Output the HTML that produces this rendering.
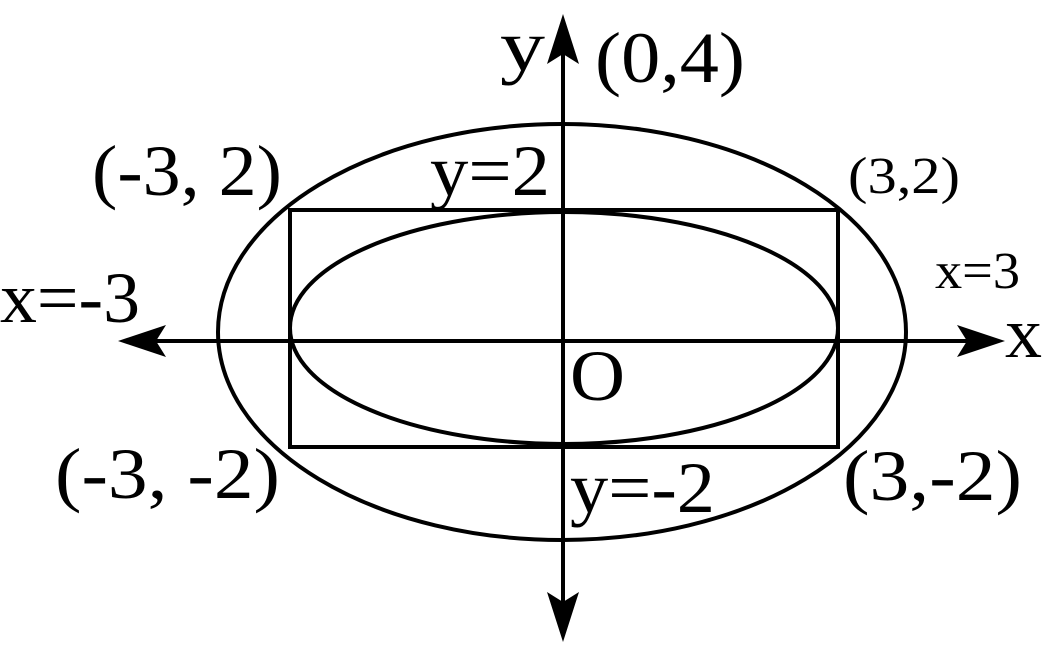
<!DOCTYPE html>
<html><head><meta charset="utf-8"><style>
html,body{margin:0;padding:0;background:#fff;}
svg{display:block;}
text{font-family:"Liberation Serif",serif;fill:#000;}
</style></head><body>
<svg width="1047" height="656" viewBox="0 0 1047 656" xmlns="http://www.w3.org/2000/svg">
<g stroke="#000" stroke-width="4" fill="none">
<ellipse cx="562" cy="332" rx="344" ry="208"/>
<rect x="290" y="210" width="548" height="237"/>
<ellipse cx="564" cy="328" rx="274" ry="116"/>
<line x1="140" y1="341" x2="985" y2="341"/>
<line x1="563" y1="35" x2="563" y2="620"/>
</g>
<g fill="#000">
<polygon points="118,341 166,325 156,341 166,357"/>
<polygon points="1005,341 957,325 967,341 957,357"/>
<polygon points="563,14 547,64 563,54 579,64"/>
<polygon points="563,642 547,592 563,602 579,592"/>
</g>
<g font-size="72">
<text x="500" y="70" textLength="45" lengthAdjust="spacingAndGlyphs">y</text>
<text x="595" y="82" textLength="150" lengthAdjust="spacingAndGlyphs">(0,4)</text>
<text x="92" y="195" textLength="190" lengthAdjust="spacingAndGlyphs">(-3, 2)</text>
<text x="430" y="195" textLength="120" lengthAdjust="spacingAndGlyphs">y=2</text>
<text x="0" y="322" textLength="140" lengthAdjust="spacingAndGlyphs">x=-3</text>
<text x="1005" y="357" textLength="37" lengthAdjust="spacingAndGlyphs">x</text>
<text x="570" y="400" textLength="55" lengthAdjust="spacingAndGlyphs">O</text>
<text x="55" y="498" textLength="225" lengthAdjust="spacingAndGlyphs">(-3, -2)</text>
<text x="570" y="512" textLength="145" lengthAdjust="spacingAndGlyphs">y=-2</text>
<text x="843" y="500" textLength="179" lengthAdjust="spacingAndGlyphs">(3,-2)</text>
</g>
<g font-size="52">
<text x="848" y="193" textLength="112" lengthAdjust="spacingAndGlyphs">(3,2)</text>
<text x="935" y="288" textLength="85" lengthAdjust="spacingAndGlyphs">x=3</text>
</g>
</svg>
</body></html>
